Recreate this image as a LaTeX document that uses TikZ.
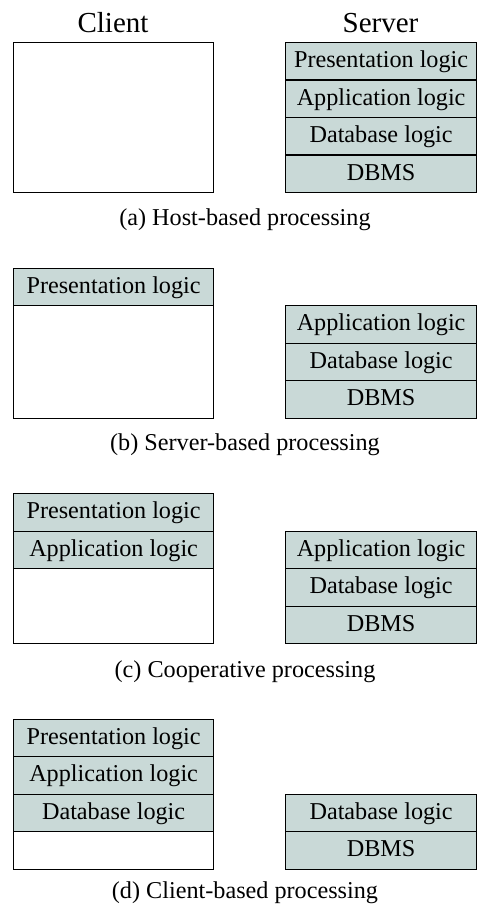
\documentclass[tikz,border=0pt]{standalone}
\usepackage{fontspec}
\setmainfont{Liberation Serif}
\usepackage{tikz}

\definecolor{tierfill}{RGB}{201,217,215}

\begin{document}
\begin{tikzpicture}[x=0.5pt, y=-0.5pt, line width=0.6pt,
  % Empty white part of a client box
  emptybox/.style={draw, fill=white, minimum width=100pt, inner sep=0pt,
                   anchor=north west},
  % Shaded tiers: one row per logic layer
  clienttier/.style={draw, fill=tierfill, minimum width=100pt, minimum height=18.75pt,
                     inner sep=0pt, anchor=north west, font=\fontsize{12.1}{14}\selectfont,
                     text height=0.75em, text depth=0.09em},
  servertier/.style={clienttier, minimum width=95.5pt},
  % Column heads and panel captions
  head/.style={font=\fontsize{14.5}{17}\selectfont, anchor=base},
  caption/.style={font=\fontsize{12.1}{14}\selectfont, text height=0.75em, text depth=0.09em}
]
  \useasboundingbox (0,0) rectangle (478,909);

  % Column heads
  \node[head] (clienthead) at (113,33) {Client};
  \node[head] (serverhead) at (380.5,33) {Server};

  % (a) Host-based processing
  \node[emptybox, minimum height=75pt] (hostclient) at (13,42) {};
  \node[servertier] (hostpres) at (285,42) {Presentation logic};
  \node[servertier] (hostapp) at (285,79.5) {Application logic};
  \node[servertier] (hostdb) at (285,117) {Database logic};
  \node[servertier] (hostdbms) at (285,154.5) {DBMS};
  \node[caption] (hostcap) at (245,219) {(a) Host-based processing};

  % (b) Server-based processing
  \node[clienttier] (srvpres) at (13,267.5) {Presentation logic};
  \node[emptybox, minimum height=56.25pt] (srvclient) at (13,305) {};
  \node[servertier] (srvapp) at (285,305) {Application logic};
  \node[servertier] (srvdb) at (285,342.5) {Database logic};
  \node[servertier] (srvdbms) at (285,380) {DBMS};
  \node[caption] (srvcap) at (245,444) {(b) Server-based processing};

  % (c) Cooperative processing
  \node[clienttier] (coppres) at (13,493) {Presentation logic};
  \node[clienttier] (copapp) at (13,530.5) {Application logic};
  \node[emptybox, minimum height=37.5pt] (copclient) at (13,568) {};
  \node[servertier] (copsrvapp) at (285,530.5) {Application logic};
  \node[servertier] (copsrvdb) at (285,568) {Database logic};
  \node[servertier] (copsrvdbms) at (285,605.5) {DBMS};
  \node[caption] (copcap) at (245,671) {(c) Cooperative processing};

  % (d) Client-based processing
  \node[clienttier] (clipres) at (13,718.5) {Presentation logic};
  \node[clienttier] (cliapp) at (13,756) {Application logic};
  \node[clienttier] (clidb) at (13,793.5) {Database logic};
  \node[emptybox, minimum height=18.75pt] (cliclient) at (13,831) {};
  \node[servertier] (clisrvdb) at (285,793.5) {Database logic};
  \node[servertier] (clisrvdbms) at (285,831) {DBMS};
  \node[caption] (clicap) at (245,891.5) {(d) Client-based processing};

\end{tikzpicture}
\end{document}
